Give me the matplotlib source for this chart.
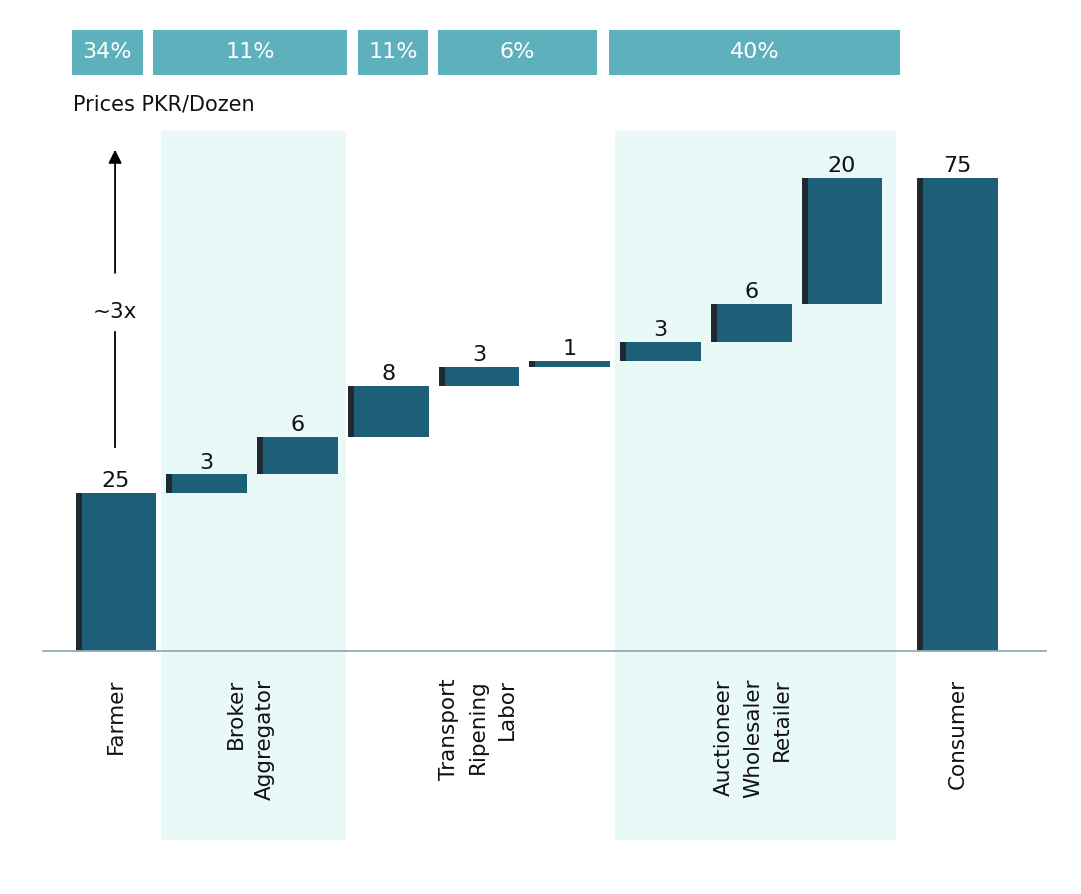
import matplotlib.pyplot as plt

plt.rcParams['font.family'] = ['DejaVu Sans']

# data
steps = ["Farmer", "Broker", "Aggregator", "Transport", "Ripening", "Labor",
         "Auctioneer", "Wholesaler", "Retailer"]
step_values = [25, 3, 6, 8, 3, 1, 3, 6, 20]
consumer_value = 75

group_labels = ["Farmer", "Broker\nAggregator", "Transport\nRipening\nLabor",
                "Auctioneer\nWholesaler\nRetailer", "Consumer"]
shares = ["34%", "11%", "11%", "6%", "40%"]

# layout (x in bar slots, y in PKR)
bar_x = list(range(len(steps)))
consumer_x = 9.27
width = 0.89
edge_w = 0.066
group_x = [0, 1.48, 3.99, 7.02, 9.28]
share_spans = [(-0.485, 0.298), (0.408, 2.545), (2.667, 3.438), (3.548, 5.30), (5.433, 8.639)]
shade_spans = [(0.496, 2.534), (5.499, 8.595)]

bar_col = "#1d5e79"
dark_col = "#1f2a30"
box_col = "#5eb1bc"
shade_col = "#e8f9f8"
txt_col = "#111111"

fig = plt.figure(figsize=(10.81, 8.94), dpi=100)
ax = fig.add_axes([0, 0, 1, 1])
ax.set_xlim(-1.278, 10.634)
ax.set_ylim(-38.5, 103.2)
ax.axis("off")

# shaded groups
for a, b in shade_spans:
    ax.fill_between([a, b], -30.0, 82.4, color=shade_col, lw=0, zorder=0)

# waterfall
bottom = 0
for x, v in zip(bar_x, step_values):
    ax.bar(x, v, width, bottom=bottom, color=bar_col, zorder=2)
    ax.bar(x - width / 2 + edge_w / 2, v, edge_w, bottom=bottom, color=dark_col, zorder=3)
    ax.text(x, bottom + v + 0.3, str(v), ha="center", va="bottom", fontsize=16, color=txt_col)
    bottom += v

ax.bar(consumer_x, consumer_value, width, color=bar_col, zorder=2)
ax.bar(consumer_x - width / 2 + edge_w / 2, consumer_value, edge_w, color=dark_col, zorder=3)
ax.text(consumer_x, consumer_value + 0.3, str(consumer_value), ha="center", va="bottom",
        fontsize=16, color=txt_col)

# baseline
ax.plot([-0.805, 10.25], [0, 0], color="#8eaeb8", lw=1.3, zorder=4)

# category labels
for x, lab in zip(group_x, group_labels):
    ax.text(x, -4.4, lab, rotation=90, ha="center", va="top", multialignment="right",
            fontsize=15.5, color=txt_col, linespacing=1.55)

# share boxes
for (a, b), s in zip(share_spans, shares):
    ax.fill_between([a, b], 91.3, 98.5, color=box_col, lw=0)
    ax.text((a + b) / 2, 94.9, s, ha="center", va="center", fontsize=16, color="white")

ax.text(-0.47, 86.7, "Prices PKR/Dozen", ha="left", va="center", fontsize=15, color=txt_col)

# ~3x arrow
ax.plot([-0.01, -0.01], [32.3, 50.5], color="black", lw=1.3)
ax.annotate("", xy=(-0.01, 79.9), xytext=(-0.01, 59.5),
            arrowprops=dict(arrowstyle="-|>", color="black", lw=1.3, mutation_scale=20))
ax.text(-0.01, 53.8, "~3x", ha="center", va="center", fontsize=15.5, color=txt_col)

fig.savefig("out.png", dpi=100)
